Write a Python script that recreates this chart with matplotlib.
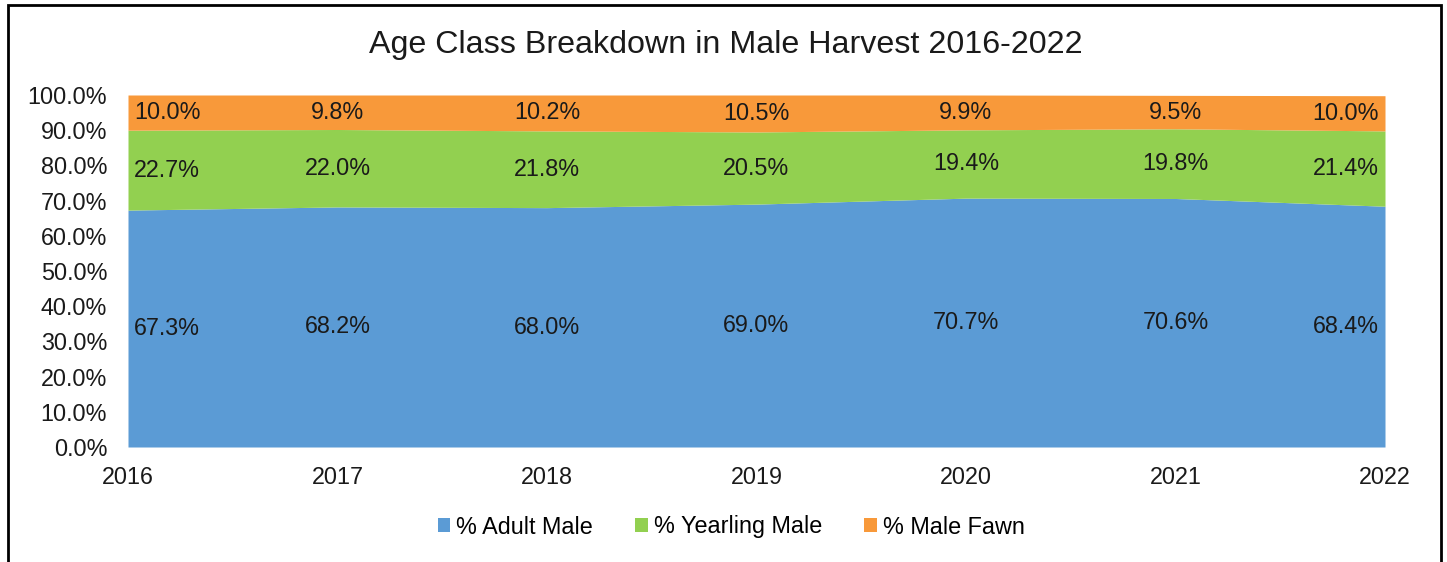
import matplotlib
matplotlib.use("Agg")
import matplotlib.pyplot as plt
from matplotlib.patches import Patch, Rectangle
import numpy as np

plt.rcParams['font.family'] = ['Liberation Sans', 'DejaVu Sans']

years = [2016, 2017, 2018, 2019, 2020, 2021, 2022]
adult_male = [67.3, 68.2, 68.0, 69.0, 70.7, 70.6, 68.4]
yearling_male = [22.7, 22.0, 21.8, 20.5, 19.4, 19.8, 21.4]
male_fawn = [10.0, 9.8, 10.2, 10.5, 9.9, 9.5, 10.0]
series_names = ["% Adult Male", "% Yearling Male", "% Male Fawn"]
colors = ["#5B9BD5", "#92D050", "#F8993A"]
y_ticks = [0, 10, 20, 30, 40, 50, 60, 70, 80, 90, 100]

fig = plt.figure(figsize=(14.47, 5.62), dpi=100)
ax = fig.add_axes([128 / 1447, 1 - 447 / 562, (1385 - 128) / 1447, (447 - 95) / 562])

series = [adult_male, yearling_male, male_fawn]
x = np.array(years)
base = np.zeros(len(years))
for vals, col in zip(series, colors):
    v = np.array(vals)
    ax.fill_between(x, base, base + v, color=col, linewidth=0)
    # value labels at the middle of each band
    for i, (xi, b, vi) in enumerate(zip(x, base, v)):
        if i == 0:
            ha, dx = 'left', 0.03
        elif i == len(x) - 1:
            ha, dx = 'right', -0.03
        else:
            ha, dx = 'center', 0.0
        ax.text(xi + dx, b + vi / 2, f"{vi:.1f}%", ha=ha, va='center',
                fontsize=16.8, color='#1a1a1a')
    base = base + v

ax.set_xlim(years[0], years[-1])
ax.set_ylim(0, 100)
ax.set_xticks(years)
ax.set_xticklabels([str(y) for y in years])
ax.set_yticks(y_ticks)
ax.set_yticklabels([f"{t:.1f}%" for t in y_ticks])
ax.tick_params(axis='both', length=0, labelsize=16.8, colors='#1a1a1a')
ax.tick_params(axis='y', pad=15)
ax.tick_params(axis='x', pad=14)
for s in ax.spines.values():
    s.set_visible(False)

fig.text(726 / 1447, 1 - 45 / 562, "Age Class Breakdown in Male Harvest 2016-2022",
         ha='center', va='center', fontsize=23.2, color='#1a1a1a')

handles = [Patch(facecolor=c, edgecolor='none') for c in colors]
fig.legend(handles, series_names, loc='center', bbox_to_anchor=(731 / 1447, 1 - 527 / 562),
           ncol=3, frameon=False, fontsize=16.8, handlelength=0.55, handleheight=0.55,
           handletextpad=0.25, columnspacing=1.8)

fig.patches.append(Rectangle((8 / 1447, -0.05), (1441 - 8) / 1447, 1 - 5 / 562 + 0.05,
                             transform=fig.transFigure, fill=False, edgecolor='black',
                             linewidth=2.0))

fig.savefig("out.png", dpi=100)
